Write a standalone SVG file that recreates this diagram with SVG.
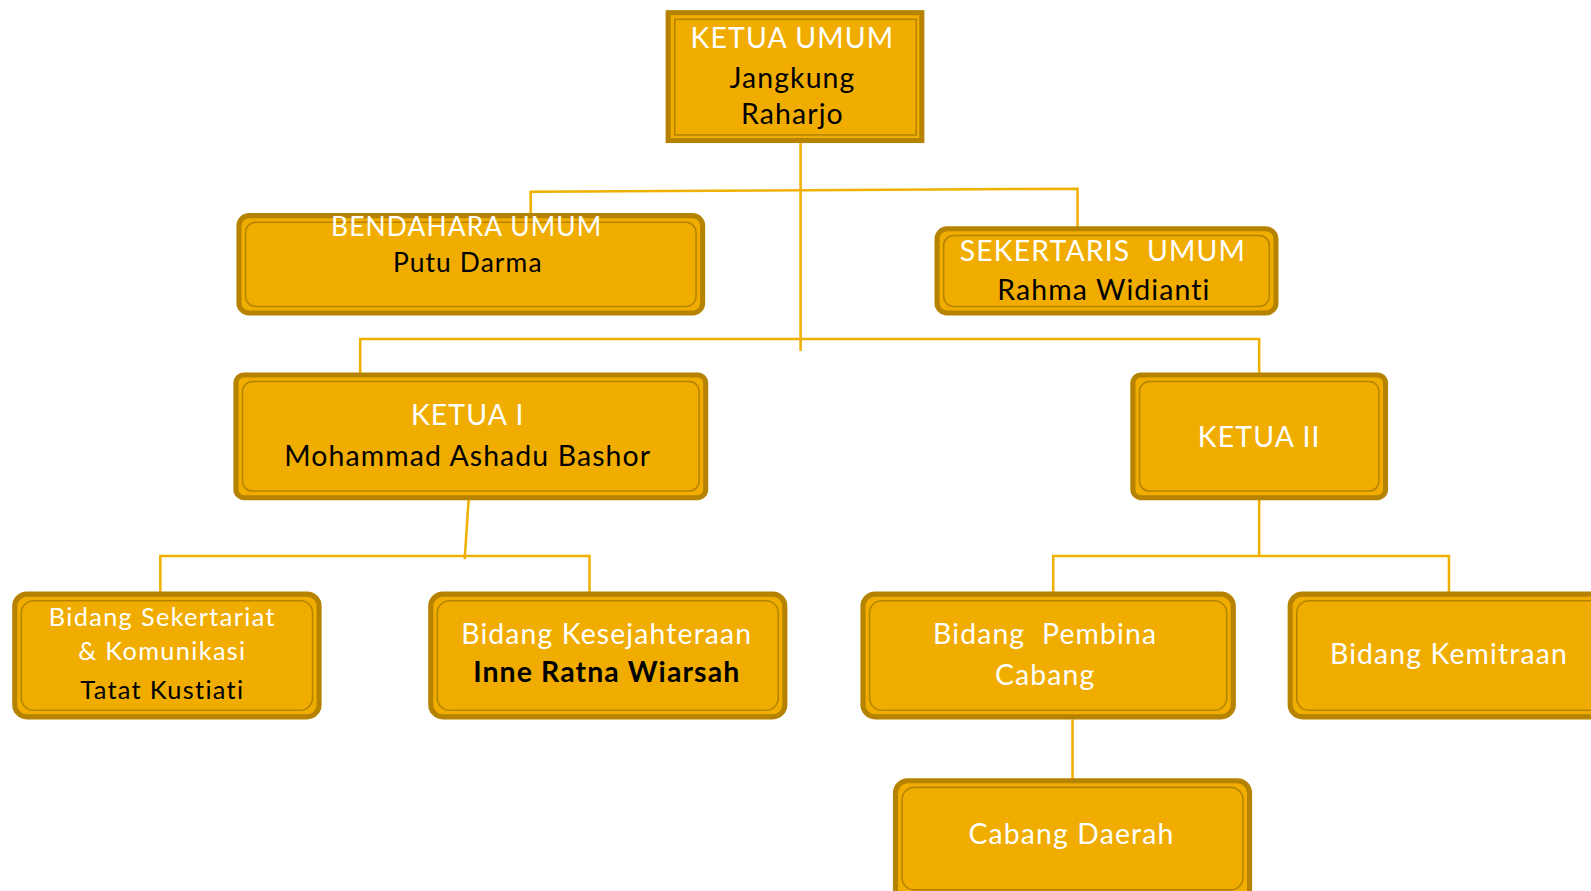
<svg xmlns="http://www.w3.org/2000/svg" width="1591" height="891" viewBox="0 0 1591 891">
<style>
.box{fill:#F0AD00;stroke:#B58300;stroke-width:5}
.inner{fill:none;stroke:#B58300;stroke-width:1.5}
.t{font-family:Lato,"Open Sans",sans-serif;font-size:28px;text-anchor:middle;letter-spacing:1.1px}
.w{fill:#FFFFFF}
.k{fill:#000000}
.c{fill:none;stroke:#F0B000;stroke-width:2.5}
</style>
<rect width="1591" height="891" fill="#FFFFFF"/>
<g transform="scale(1.01467)">
<g id="connectors">
<line class="c" x1="789" y1="141" x2="789" y2="346"/>
<polyline class="c" points="523,212 523,189 1062,186 1062,224"/>
<polyline class="c" points="355,373 355,334 1241,334 1241,369"/>
<line class="c" x1="462" y1="490" x2="458" y2="551"/>
<polyline class="c" points="158,585 158,548 581,548 581,585"/>
<polyline class="c" points="1241,490 1241,548"/>
<polyline class="c" points="1038,585 1038,548 1428,548 1428,585"/>
<line class="c" x1="1057" y1="709" x2="1057" y2="770"/>
</g>
<g id="ketua-umum">
<rect class="box" x="658.500" y="12.500" width="250" height="126"/>
<rect class="inner" x="665" y="19" width="238" height="114"/>
<text class="t w" x="781" y="47">KETUA UMUM</text>
<text class="t k" x="781" y="87">Jangkung</text>
<text class="t k" x="781" y="122">Raharjo</text>
</g>
<g id="bendahara">
<rect class="box" x="235.500" y="212.500" width="457" height="96" rx="10"/>
<rect class="inner" x="242" y="219" width="444" height="83" rx="10"/>
<text class="t w" x="460" y="233" style="font-size:26px">BENDAHARA UMUM</text>
<text class="t k" x="461" y="268" style="font-size:26px">Putu Darma</text>
</g>
<g id="sekertaris">
<rect class="box" x="923.500" y="225.500" width="334" height="83" rx="10"/>
<rect class="inner" x="930" y="232" width="321" height="70" rx="10"/>
<text class="t w" x="1087" y="257" xml:space="preserve">SEKERTARIS  UMUM</text>
<text class="t k" x="1088" y="296">Rahma Widianti</text>
</g>
<g id="ketua-1">
<rect class="box" x="232.500" y="369.500" width="463" height="121" rx="8"/>
<rect class="inner" x="239" y="376" width="450" height="108" rx="10"/>
<text class="t w" x="461" y="419">KETUA I</text>
<text class="t k" x="461" y="459">Mohammad Ashadu Bashor</text>
</g>
<g id="ketua-2">
<rect class="box" x="1116.500" y="369.500" width="249" height="121" rx="8"/>
<rect class="inner" x="1123" y="376" width="236" height="108" rx="10"/>
<text class="t w" x="1241" y="441">KETUA II</text>
</g>
<g id="bidang-sekertariat">
<rect class="box" x="14.500" y="585.500" width="300" height="121" rx="12"/>
<rect class="inner" x="21" y="592" width="287" height="108" rx="12"/>
<text class="t w" x="160" y="617" style="font-size:25px;letter-spacing:1.3px">Bidang Sekertariat</text>
<text class="t w" x="160" y="650" style="font-size:25px;letter-spacing:1.3px">&amp; Komunikasi</text>
<text class="t k" x="160" y="689" style="font-size:25px;letter-spacing:1.3px">Tatat Kustiati</text>
</g>
<g id="bidang-kesejahteraan">
<rect class="box" x="424.500" y="585.500" width="349" height="121" rx="12"/>
<rect class="inner" x="431" y="592" width="336" height="108" rx="12"/>
<text class="t w" x="598" y="635">Bidang Kesejahteraan</text>
<text class="t k" x="598" y="672" style="font-weight:bold">Inne Ratna Wiarsah</text>
</g>
<g id="bidang-pembina">
<rect class="box" x="850.500" y="585.500" width="365" height="121" rx="12"/>
<rect class="inner" x="857" y="592" width="352" height="108" rx="12"/>
<text class="t w" x="1030" y="635" xml:space="preserve">Bidang  Pembina</text>
<text class="t w" x="1030" y="675">Cabang</text>
</g>
<g id="bidang-kemitraan">
<rect class="box" x="1271.500" y="585.500" width="340" height="121" rx="12"/>
<rect class="inner" x="1278" y="592" width="327" height="108" rx="12"/>
<text class="t w" x="1428" y="654">Bidang Kemitraan</text>
</g>
<g id="cabang-daerah">
<rect class="box" x="882.500" y="769.500" width="349" height="121" rx="12"/>
<rect class="inner" x="889" y="776" width="336" height="101" rx="12"/>
<text class="t w" x="1056" y="832">Cabang Daerah</text>
</g>
</g>
</svg>
